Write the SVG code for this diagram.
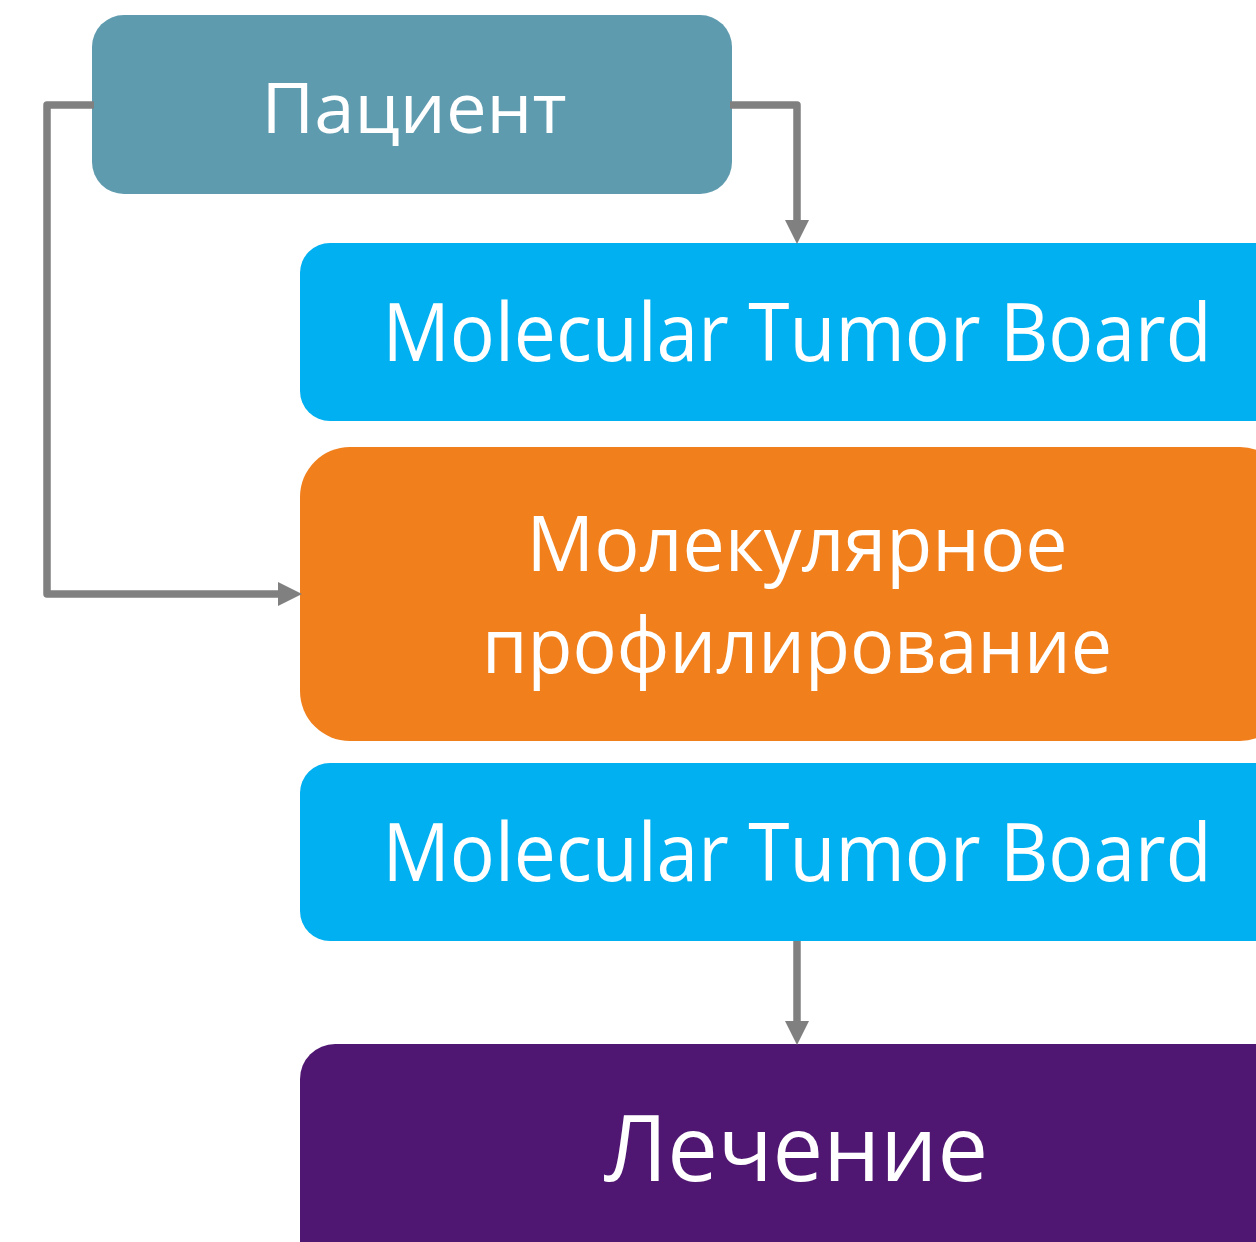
<svg xmlns="http://www.w3.org/2000/svg" width="1256" height="1242" viewBox="0 0 1256 1242">
<style>
.lbl{font-family:"Open Sans","Noto Sans","Liberation Sans",sans-serif;fill:#FFFFFF;text-anchor:middle}
.conn{fill:none;stroke:#808080;stroke-width:7.5;stroke-linejoin:round}
</style>
<defs>
<marker id="arr" markerUnits="userSpaceOnUse" markerWidth="24" markerHeight="24" viewBox="0 0 24 24" refX="0" refY="12" orient="auto">
<path d="M0 0 L24 12 L0 24 Z" fill="#808080"/>
</marker>
</defs>
<rect width="1256" height="1242" fill="#FFFFFF"/>
<g id="patient">
<rect x="92" y="15" width="640" height="179" rx="32" fill="#5F9BAF"/>
<text class="lbl" x="414" y="133" font-size="70" textLength="305" lengthAdjust="spacingAndGlyphs">Пациент</text>
</g>
<g id="mtb1">
<path d="M330 243 H1256 V421 H330 A30 30 0 0 1 300 391 V273 A30 30 0 0 1 330 243 Z" fill="#00B0F0"/>
<text class="lbl" x="797" y="361" font-size="81" textLength="829" lengthAdjust="spacingAndGlyphs">Molecular Tumor Board</text>
</g>
<g id="profiling">
<rect x="300" y="447" width="990" height="294" rx="50" fill="#F07F1C"/>
<text class="lbl" x="797" y="571" font-size="77" textLength="541" lengthAdjust="spacingAndGlyphs">Молекулярное</text>
<text class="lbl" x="797" y="673" font-size="77" textLength="630" lengthAdjust="spacingAndGlyphs">профилирование</text>
</g>
<g id="mtb2">
<path d="M330 763 H1256 V941 H330 A30 30 0 0 1 300 911 V793 A30 30 0 0 1 330 763 Z" fill="#00B0F0"/>
<text class="lbl" x="797" y="881" font-size="81" textLength="829" lengthAdjust="spacingAndGlyphs">Molecular Tumor Board</text>
</g>
<g id="treatment">
<path d="M335 1044 H1256 V1242 H300 V1079 A35 35 0 0 1 335 1044 Z" fill="#4F1772"/>
<text class="lbl" x="796" y="1181" font-size="92" textLength="384" lengthAdjust="spacingAndGlyphs">Лечение</text>
</g>
<g id="connectors">
<path class="conn" d="M94 105 H47 V594 H278" marker-end="url(#arr)"/>
<path class="conn" d="M730 105 H797 V220" marker-end="url(#arr)"/>
<path class="conn" d="M797 941 V1021" marker-end="url(#arr)"/>
</g>
</svg>
